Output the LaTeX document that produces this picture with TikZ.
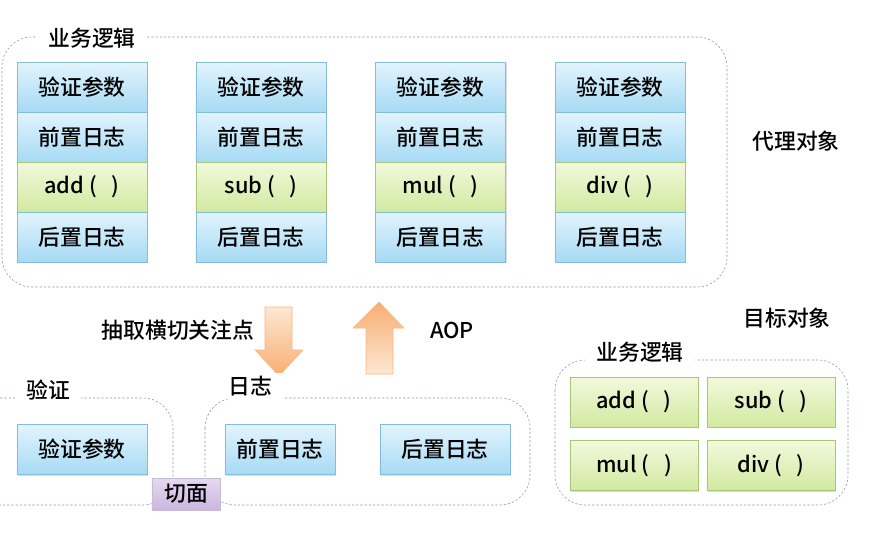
\documentclass[tikz,border=0pt]{standalone}
\usepackage{fontspec}
\setmainfont{Noto Sans CJK SC}[BoldFont=Noto Sans CJK SC Medium]
\usetikzlibrary{shadows}

\definecolor{bluetop}{HTML}{E2F4FD}
\definecolor{bluebot}{HTML}{A6DAF4}
\definecolor{blueline}{HTML}{86BCDB}
\definecolor{greentop}{HTML}{F2F9DC}
\definecolor{greenbot}{HTML}{D2E9A0}
\definecolor{greenline}{HTML}{A8C679}
\definecolor{purptop}{HTML}{E6D9F1}
\definecolor{purpbot}{HTML}{CBB5E0}
\definecolor{orangelight}{HTML}{FDE7D2}
\definecolor{orangedark}{HTML}{F8AE72}
\definecolor{groupline}{HTML}{8C97B2}

\tikzset{
    cell/.style={draw=blueline, top color=bluetop, bottom color=bluebot,
        minimum width=3.25cm, minimum height=1.25cm, inner sep=0pt,
        drop shadow={opacity=0.25, shadow xshift=0.7pt, shadow yshift=-0.7pt}},
    fcell/.style={cell, draw=greenline, top color=greentop, bottom color=greenbot},
    group/.style={draw=groupline, dash pattern=on 1.6pt off 1.4pt, rounded corners=0.75cm},
    grouplabel/.style={fill=white, inner xsep=8pt, inner ysep=2pt},
    bigarrow/.style={draw=orangedark!90!white, line width=0.4pt}
}

\begin{document}
\begin{tikzpicture}[x=0.025cm, y=-0.025cm, font=\fontsize{15.5}{18}\selectfont\bfseries]
    \useasboundingbox (0,0) rectangle (892,542);

    % proxy objects
    \draw[group] (2,37) rectangle (727,287);
    \node[grouplabel] (proxylbl) at (92,38) {业务逻辑};
    \foreach \i/\x/\f in {1/82/add,2/261/sub,3/440.5/mul,4/620/div} {
        \node[cell] (check\i) at (\x,87) {验证参数};
        \node[cell] (before\i) at (\x,137) {前置日志};
        \node[fcell] (fn\i) at (\x,187) {\f\ (\ \ \ )};
        \node[cell] (after\i) at (\x,237) {后置日志};
    }
    \node (proxy) at (796,141) {代理对象};

    % arrows
    \draw[bigarrow, top color=orangelight, bottom color=orangedark]
        (265,307) -- (292,307) -- (292,350) -- (303,350) -- (279,376)
        -- (255,350) -- (265,350) -- cycle;
    \draw[bigarrow, top color=orangedark, bottom color=orangelight]
        (366,374) -- (393,374) -- (393,328) -- (404,328) -- (379,302)
        -- (353,328) -- (366,328) -- cycle;
    \node (extractlbl) at (178,330) {抽取横切关注点};
    \node (aoplbl) at (452,330) {AOP};

    % aspects
    \draw[group] (-30,398) rectangle (173,505);
    \draw[group] (205,398) rectangle (530,505);
    \node[grouplabel] (checklbl) at (48,390) {验证};
    \node[grouplabel] (loglbl) at (250,386) {日志};
    \node[cell] (acheck) at (82,449.5) {验证参数};
    \node[cell, minimum width=2.75cm] (abefore) at (280,449.5) {前置日志};
    \node[cell] (aafter) at (445,449.5) {后置日志};
    \node[cell, draw=purpbot!80!black!60!white, top color=purptop, bottom color=purpbot,
        minimum width=1.7cm, minimum height=0.8cm] (aspect) at (186,494) {切面};

    % target object
    \node (target) at (787,318) {目标对象};
    \draw[group] (555,360) rectangle (848,505);
    \node[grouplabel] (targetlbl) at (640,352) {业务逻辑};
    \node[fcell, minimum width=3.2cm] (tadd) at (634,402) {add\ (\ \ \ )};
    \node[fcell, minimum width=3.2cm] (tsub) at (771,402) {sub\ (\ \ \ )};
    \node[fcell, minimum width=3.2cm] (tmul) at (634,465.5) {mul\ (\ \ \ )};
    \node[fcell, minimum width=3.2cm] (tdiv) at (771,465.5) {div\ (\ \ \ )};
\end{tikzpicture}
\end{document}
